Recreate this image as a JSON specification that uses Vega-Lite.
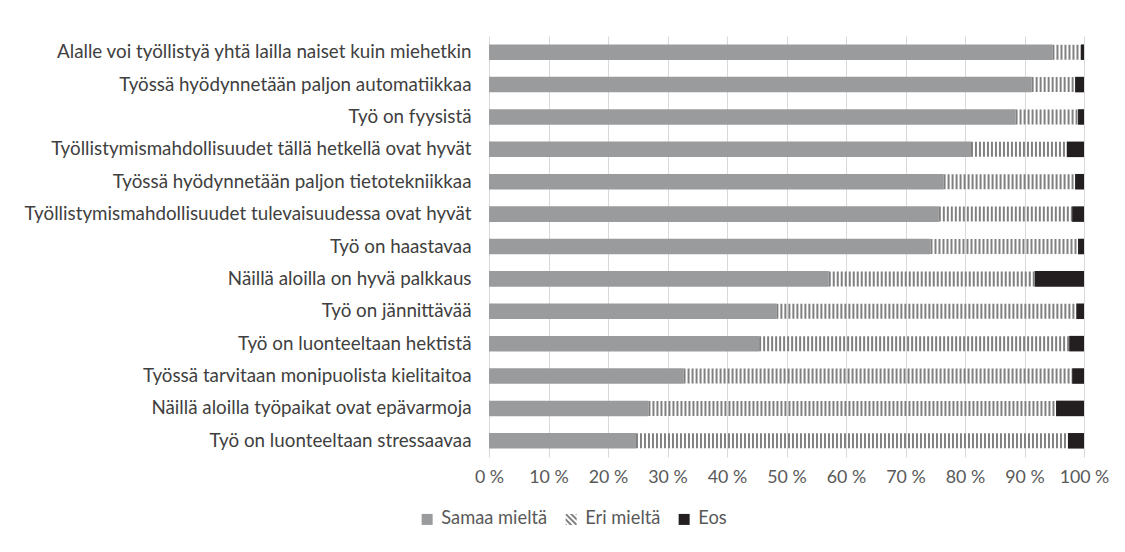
{
  "$schema": "https://vega.github.io/schema/vega-lite/v6.json",
  "autosize": "none",
  "width": 595,
  "height": 421,
  "padding": {"left": 489, "top": 36, "right": 41, "bottom": 95},
  "background": "white",
  "config": {
    "view": {"stroke": null},
    "font": "Lato"
  },
  "data": {
    "values": [
      {"item": "Alalle voi työllistyä yhtä lailla naiset kuin miehetkin", "cat": "Samaa mieltä", "value": 94.7},
      {"item": "Alalle voi työllistyä yhtä lailla naiset kuin miehetkin", "cat": "Eri mieltä", "value": 4.8},
      {"item": "Alalle voi työllistyä yhtä lailla naiset kuin miehetkin", "cat": "Eos", "value": 0.5},
      {"item": "Työssä hyödynnetään paljon automatiikkaa", "cat": "Samaa mieltä", "value": 91.2},
      {"item": "Työssä hyödynnetään paljon automatiikkaa", "cat": "Eri mieltä", "value": 7.3},
      {"item": "Työssä hyödynnetään paljon automatiikkaa", "cat": "Eos", "value": 1.5},
      {"item": "Työ on fyysistä", "cat": "Samaa mieltä", "value": 88.5},
      {"item": "Työ on fyysistä", "cat": "Eri mieltä", "value": 10.5},
      {"item": "Työ on fyysistä", "cat": "Eos", "value": 1.0},
      {"item": "Työllistymismahdollisuudet tällä hetkellä ovat hyvät", "cat": "Samaa mieltä", "value": 81.0},
      {"item": "Työllistymismahdollisuudet tällä hetkellä ovat hyvät", "cat": "Eri mieltä", "value": 16.1},
      {"item": "Työllistymismahdollisuudet tällä hetkellä ovat hyvät", "cat": "Eos", "value": 2.9},
      {"item": "Työssä hyödynnetään paljon tietotekniikkaa", "cat": "Samaa mieltä", "value": 76.4},
      {"item": "Työssä hyödynnetään paljon tietotekniikkaa", "cat": "Eri mieltä", "value": 22.1},
      {"item": "Työssä hyödynnetään paljon tietotekniikkaa", "cat": "Eos", "value": 1.5},
      {"item": "Työllistymismahdollisuudet tulevaisuudessa ovat hyvät", "cat": "Samaa mieltä", "value": 75.6},
      {"item": "Työllistymismahdollisuudet tulevaisuudessa ovat hyvät", "cat": "Eri mieltä", "value": 22.4},
      {"item": "Työllistymismahdollisuudet tulevaisuudessa ovat hyvät", "cat": "Eos", "value": 2.0},
      {"item": "Työ on haastavaa", "cat": "Samaa mieltä", "value": 74.2},
      {"item": "Työ on haastavaa", "cat": "Eri mieltä", "value": 24.8},
      {"item": "Työ on haastavaa", "cat": "Eos", "value": 1.0},
      {"item": "Näillä aloilla on hyvä palkkaus", "cat": "Samaa mieltä", "value": 57.1},
      {"item": "Näillä aloilla on hyvä palkkaus", "cat": "Eri mieltä", "value": 34.6},
      {"item": "Näillä aloilla on hyvä palkkaus", "cat": "Eos", "value": 8.3},
      {"item": "Työ on jännittävää", "cat": "Samaa mieltä", "value": 48.3},
      {"item": "Työ on jännittävää", "cat": "Eri mieltä", "value": 50.4},
      {"item": "Työ on jännittävää", "cat": "Eos", "value": 1.3},
      {"item": "Työ on luonteeltaan hektistä", "cat": "Samaa mieltä", "value": 45.4},
      {"item": "Työ on luonteeltaan hektistä", "cat": "Eri mieltä", "value": 52.1},
      {"item": "Työ on luonteeltaan hektistä", "cat": "Eos", "value": 2.5},
      {"item": "Työssä tarvitaan monipuolista kielitaitoa", "cat": "Samaa mieltä", "value": 32.7},
      {"item": "Työssä tarvitaan monipuolista kielitaitoa", "cat": "Eri mieltä", "value": 65.3},
      {"item": "Työssä tarvitaan monipuolista kielitaitoa", "cat": "Eos", "value": 2.0},
      {"item": "Näillä aloilla työpaikat ovat epävarmoja", "cat": "Samaa mieltä", "value": 26.8},
      {"item": "Näillä aloilla työpaikat ovat epävarmoja", "cat": "Eri mieltä", "value": 68.5},
      {"item": "Näillä aloilla työpaikat ovat epävarmoja", "cat": "Eos", "value": 4.7},
      {"item": "Työ on luonteeltaan stressaavaa", "cat": "Samaa mieltä", "value": 24.7},
      {"item": "Työ on luonteeltaan stressaavaa", "cat": "Eri mieltä", "value": 72.6},
      {"item": "Työ on luonteeltaan stressaavaa", "cat": "Eos", "value": 2.7}
    ]
  },
  "transform": [
    {"stack": "value", "groupby": ["item"], "sort": [{"field": "cat", "order": "descending"}], "as": ["x0", "x1"]}
  ],
  "encoding": {
    "y": {
      "field": "item", "type": "nominal", "sort": null,
      "scale": {"paddingInner": 0.52, "paddingOuter": 0.26},
      "axis": {"title": null, "ticks": false, "domain": false, "labelFontSize": 18.8, "labelColor": "#404040", "labelPadding": 18, "labelLimit": 600}
    },
    "x": {
      "field": "x0", "type": "quantitative",
      "scale": {"domain": [0, 100], "nice": false},
      "axis": {"title": null, "values": [0, 10, 20, 30, 40, 50, 60, 70, 80, 90, 100], "labelOverlap": false, "labelFlush": false, "labelExpr": "datum.value + ' %'", "ticks": false, "domain": false, "grid": true, "gridColor": "#d9d9d9", "gridWidth": 1, "labelFontSize": 17.8, "labelColor": "#595959", "labelPadding": 11}
    },
    "x2": {"field": "x1"}
  },
  "layer": [
    {
      "transform": [{"filter": "datum.cat !== 'Eri mieltä'"}],
      "mark": {"type": "bar"},
      "encoding": {
        "color": {
          "field": "cat", "type": "nominal",
          "scale": {"domain": ["Samaa mieltä", "Eri mieltä", "Eos"], "range": ["#9a9b9d", "#7f7f7f", "#231f20"]},
          "legend": {
            "title": null, "orient": "none", "direction": "horizontal", "legendX": -71, "legendY": 474,
            "symbolType": "square", "symbolSize": 121, "symbolStrokeWidth": 0, "labelFontSize": 18.3, "labelColor": "#595959", "labelOffset": 5, "columnPadding": 14,
            "encode": {"symbols": {"update": {"shape": {"signal": "datum.value === 'Eri mieltä' ? 'M-1,-1L-0.75,-1L1,0.75L1,1L0.75,1L-1,-0.75Z M-0.25,-1L0.25,-1L1,-0.25L1,0.25Z M-1,-0.25L-1,0.25L-0.25,1L0.25,1Z M0.75,-1L1,-1L1,-0.75Z M-1,0.75L-1,1L-0.75,1Z' : 'square'"}}}}
          }
        }
      }
    },
    {
      "transform": [{"filter": "datum.cat === 'Eri mieltä'"}],
      "mark": {"type": "rule", "color": "#808080", "strokeWidth": 15, "strokeDash": [2, 2], "strokeCap": "butt"},
      "encoding": {}
    }
  ]
}
